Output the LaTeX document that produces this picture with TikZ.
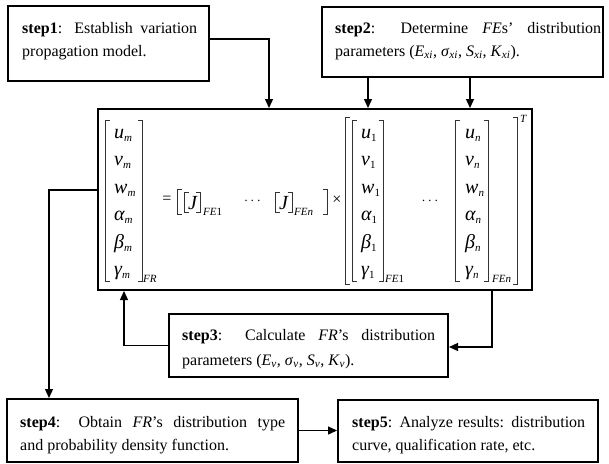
\documentclass[tikz,border=0pt]{standalone}
\usepackage{fontspec}
\setmainfont{Liberation Serif}
\usetikzlibrary{arrows.meta}

\tikzset{
  stepbox/.style={draw, line width=2pt, inner sep=0pt},
  txt/.style={anchor=base west, inner sep=0pt, font=\fontsize{16}{23}\selectfont},
  conn/.style={line width=1.3pt, -{Triangle[width=8pt,length=9pt]}},
  brk/.style={line width=0.9pt, color=black!80},
  ent/.style={anchor=base west, inner sep=0pt, font=\fontsize{20}{20}\selectfont\itshape},
  lbl/.style={anchor=base west, inner sep=0pt, font=\fontsize{11}{11}\selectfont\itshape},
  op/.style={inner sep=0pt, font=\fontsize{16}{16}\selectfont},
  dotsop/.style={anchor=base, inner sep=0pt, font=\fontsize{14}{14}\selectfont},
}

% subscript used in the matrix entries
\newcommand\sbm[1]{\raisebox{-3pt}{\fontsize{11}{11}\selectfont #1}}
% italic subscript in the step texts
\newcommand\sbt[1]{\textsubscript{\itshape #1}}
% square brackets: x, top y, bottom y
\newcommand\brkL[3]{\draw[brk] (#1+4.5,#2) -- (#1,#2) -- (#1,#3) -- (#1+4.5,#3);}
\newcommand\brkR[3]{\draw[brk] (#1-4.5,#2) -- (#1,#2) -- (#1,#3) -- (#1-4.5,#3);}

\begin{document}
\begin{tikzpicture}[x=1pt,y=-1pt]
\useasboundingbox (0,0) rectangle (609,463);

% ---- step boxes ----
\node[stepbox, minimum width=201pt, minimum height=75pt] (s1) at (108.5,43.5) {};
\node[stepbox, minimum width=281pt, minimum height=70pt] (s2) at (462.5,42) {};
\node[stepbox, minimum width=434pt, minimum height=181pt] (main) at (315,199.5) {};
\node[stepbox, minimum width=279pt, minimum height=63pt] (s3) at (308.5,345.5) {};
\node[stepbox, minimum width=291pt, minimum height=63pt] (s4) at (152.5,430.5) {};
\node[stepbox, minimum width=260pt, minimum height=62pt] (s5) at (468,431) {};

% ---- step texts ----
\node[txt] (t1) at (22,33) {\parbox[t]{175pt}{\makebox[175pt][s]{\textbf{step1}: Establish variation}\\propagation model.}};
\node[txt] (t2) at (335,33) {\parbox[t]{266pt}{\makebox[266pt][s]{\textbf{step2}: Determine \textit{FE}s’ distribution}\\parameters (\textit{E}\sbt{xi}, \textit{σ}\sbt{xi}, \textit{S}\sbt{xi}, \textit{K}\sbt{xi}).}};
\node[txt] (t3) at (182,340) {\parbox[t]{253pt}{\makebox[253pt][s]{\textbf{step3}: Calculate \textit{FR}’s distribution}\\[2pt]parameters (\textit{E}\sbt{v}, \textit{σ}\sbt{v}, \textit{S}\sbt{v}, \textit{K}\sbt{v}).}};
\node[txt] (t4) at (20,427) {\parbox[t]{265pt}{\makebox[265pt][s]{\textbf{step4}: Obtain \textit{FR}’s distribution type}\\and probability density function.}};
\node[txt] (t5) at (352,427) {\parbox[t]{233pt}{\makebox[233pt][s]{\textbf{step5}: Analyze results: distribution}\\curve, qualification rate, etc.}};

% ---- connectors ----
\draw[conn] ([yshift=4.5pt]s1.east) -| ([xshift=-46pt]main.north);
\draw[conn] ([xshift=-94.5pt]s2.south) -- ([xshift=-94.5pt]s2.south |- main.north);
\draw[conn] ([xshift=7.5pt]s2.south) -- ([xshift=7.5pt]s2.south |- main.north);
\draw[conn] ([xshift=177pt]main.south) |- ([yshift=-1.5pt]s3.east);
\draw[conn] (s3.west) -| ([xshift=-191pt]main.south);
\draw[conn] ([yshift=9.5pt]main.west) -| ([xshift=-103.5pt]s4.north);
\draw[conn] (s4.east) -- (s4.east -| s5.west);

% ---- equation: vectors ----
\foreach \s [count=\k from 0] in {u,v,w,α,β,γ}{
  \node[ent] (lm\k) at (114,138+27.5*\k) {\s\sbm{m}};
  \node[ent] (ra\k) at (361,138+27.5*\k) {\s\sbm{\upshape 1}};
  \node[ent] (rn\k) at (465,138+27.5*\k) {\s\sbm{n}};
}
\brkL{105}{120}{281} \brkR{142}{120}{281}
\brkL{352}{120}{281} \brkR{383}{120}{281}
\brkL{455}{120}{281} \brkR{488}{120}{281}
\brkL{345}{117}{284} \brkR{517}{117}{284}

\node[lbl] (fr)  at (143,282) {FR};
\node[lbl] (fe1) at (385,282) {FE{\upshape 1}};
\node[lbl] (fen) at (492,282) {FEn};
\node[lbl] (tt)  at (520,122) {T};

% ---- equation: Jacobian row ----
\node[op] (eq) at (167,200) {=};
\brkL{177}{189}{214}
\brkL{184}{192}{212}
\node[ent] (j1) at (188,209) {J};
\brkR{200}{192}{212}
\node[lbl] (jfe1) at (203,215) {FE{\upshape 1}};
\node[dotsop] (dots1) at (252.5,204) {$\cdots$};
\brkL{275}{192}{212}
\node[ent] (j2) at (279,209) {J};
\brkR{292}{192}{212}
\node[lbl] (jfen) at (294,215) {FEn};
\brkR{327}{189}{214}
\node[op] (times) at (337,200) {×};
\node[dotsop] (dots2) at (430,204) {$\cdots$};
\end{tikzpicture}
\end{document}
